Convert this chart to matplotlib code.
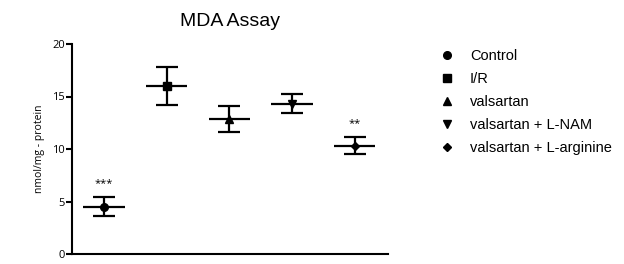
import matplotlib.pyplot as plt
from matplotlib.lines import Line2D

# data
groups = ["Control", "I/R", "valsartan", "valsartan + L-NAM", "valsartan + L-arginine"]
means = [4.5, 16.0, 12.85, 14.3, 10.3]
errors = [0.9, 1.8, 1.2, 0.9, 0.8]
markers = ["o", "s", "^", "v", "D"]
marker_sizes = [5.5, 5.5, 5.5, 5.5, 4.0]
stars = {0: "***", 4: "**"}
yticks = [0, 5, 10, 15, 20]

fig = plt.figure(figsize=(6.24, 2.64), dpi=100)
ax = fig.add_axes([72 / 624, 10 / 264, 316 / 624, 210 / 264])

for i, (m, e) in enumerate(zip(means, errors)):
    ax.errorbar(i, m, yerr=e, fmt="none", ecolor="black", elinewidth=1.6,
                capsize=7.9, capthick=1.6)
    ax.hlines(m, i - 0.33, i + 0.33, color="black", linewidth=1.6)
    ax.plot(i, m, marker=markers[i], color="black", markersize=marker_sizes[i],
            linestyle="none")
    if i in stars:
        ax.text(i, m + e + 0.8, stars[i], ha="center", va="bottom",
                fontsize=8, family="Open Sans")

ax.set_xlim(-0.51, 4.53)
ax.set_ylim(0, 20)
ax.set_xticks([])
ax.set_yticks(yticks)
ax.set_yticklabels([str(t) for t in yticks], family="Open Sans", fontsize=8)
ax.tick_params(axis="y", direction="out", length=4, width=1.5, pad=1)
for side in ["top", "right"]:
    ax.spines[side].set_visible(False)
for side in ["left", "bottom"]:
    ax.spines[side].set_linewidth(1.5)
ax.set_ylabel("nmol/mg - protein", family="Open Sans", fontsize=7.5, labelpad=5)

ax.set_title("MDA Assay", family="Liberation Sans", fontsize=14, pad=13)

handles = [Line2D([], [], marker=mk, color="black", linestyle="none",
                  markersize=ms)
           for mk, ms in zip(markers, marker_sizes)]
fig.legend(handles, groups, loc="upper left", bbox_to_anchor=(440 / 624, 1 - 49 / 264),
           frameon=False, borderpad=0, borderaxespad=0, handlelength=0.9,
           handletextpad=1.15, labelspacing=0.62,
           prop={"family": "Liberation Sans", "size": 10.5})

fig.savefig("out.png", dpi=100)
